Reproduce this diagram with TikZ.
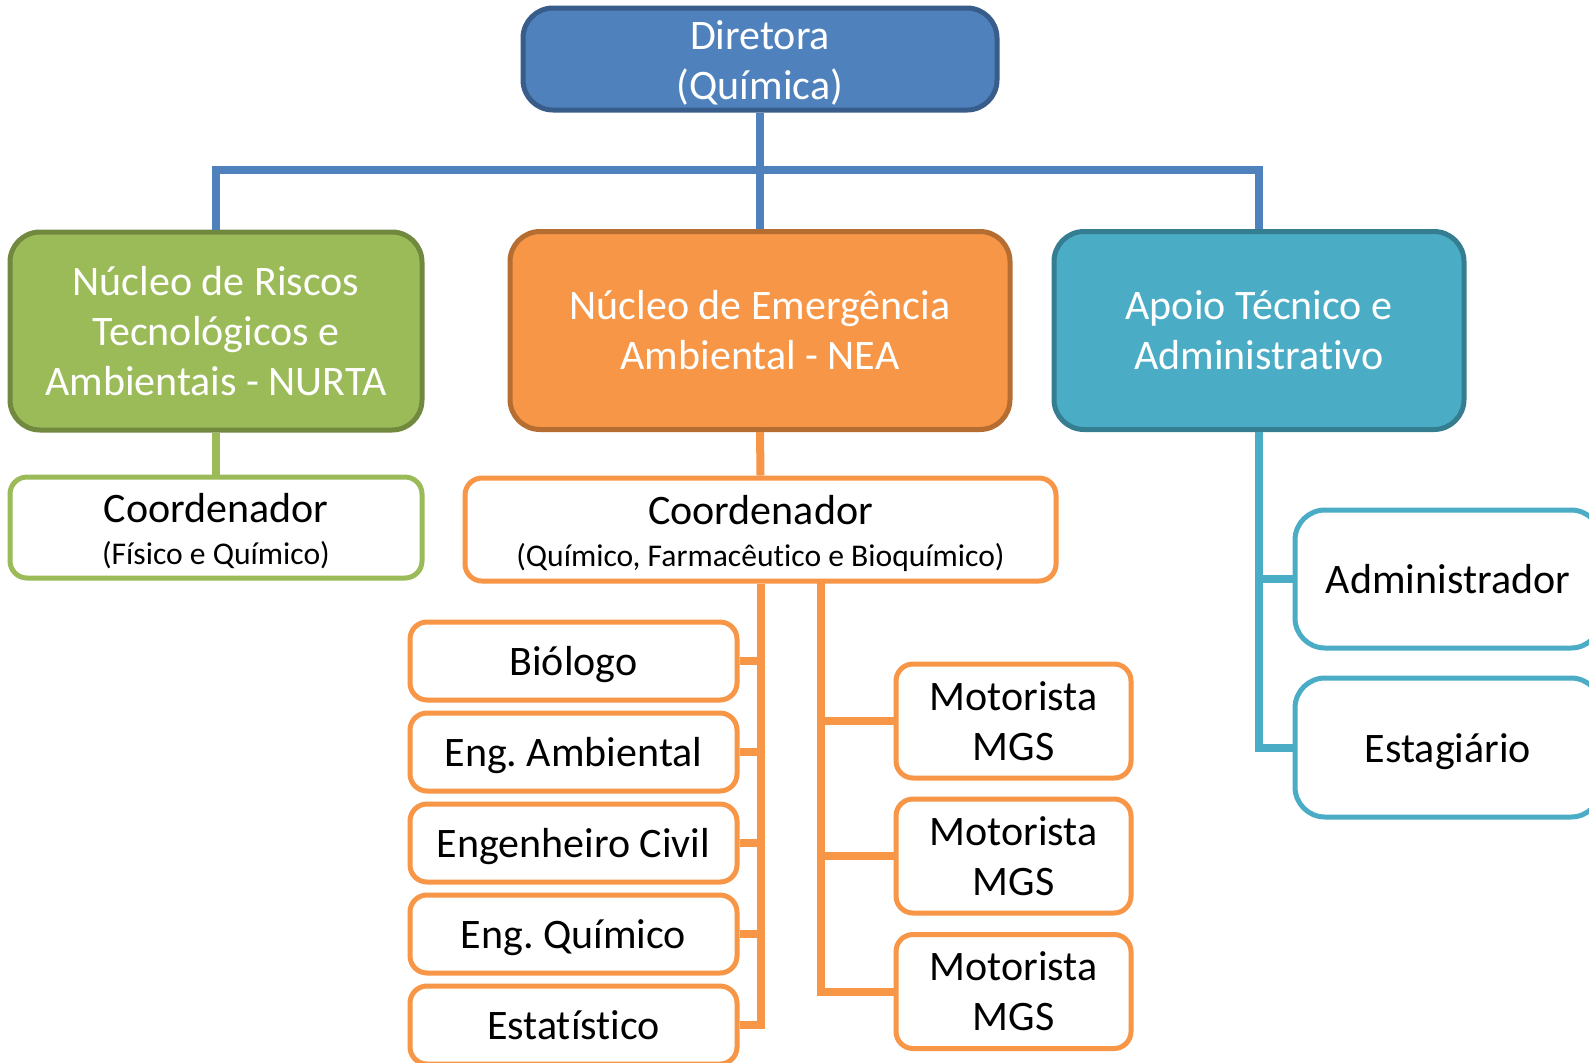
\documentclass[tikz,border=0pt]{standalone}
\usepackage{fontspec}
\setmainfont[Ligatures={NoCommon}]{Carlito}
\frenchspacing
\definecolor{bluef}{HTML}{4F81BD}
\definecolor{blued}{HTML}{385D8A}
\definecolor{greenf}{HTML}{9BBB59}
\definecolor{greend}{HTML}{71893F}
\definecolor{orangef}{HTML}{F79646}
\definecolor{oranged}{HTML}{B66D31}
\definecolor{cyanf}{HTML}{4BACC6}
\definecolor{cyand}{HTML}{357D91}
\newcommand\mainsz{\fontsize{21}{25}\selectfont}
\newcommand\subsz{\fontsize{15.8}{19}\selectfont}
\begin{document}
\frenchspacing
\begin{tikzpicture}[x=0.5pt,y=-0.5pt,
  base/.style={align=center,inner sep=0pt,font=\mainsz,line width=2.5pt},
  head/.style={base,rounded corners=15pt,text=white},
  sub/.style={base,rounded corners=8.5pt,fill=white,text=black},
  one/.style={text height=19pt,text depth=4.5pt},
  bigsub/.style={base,rounded corners=15pt,fill=white,text=black},
  conn/.style={line width=4pt},
]
\useasboundingbox (0,0) rectangle (1589,1062);
\clip (0,0) rectangle (1589,1062);
\fill[white] (0,0) rectangle (1589,1062);

% header nodes
\node[head,fill=bluef,draw=blued,minimum width=237pt,minimum height=51pt] (dir) at (760,59) {\rule{0pt}{18pt}Diretora\\(Química)};
\node[head,fill=greenf,draw=greend,minimum width=206pt,minimum height=99pt] (nurta) at (216,331) {Núcleo de Riscos\\Tecnológicos e\\Ambientais - NURTA};
\node[head,fill=orangef,draw=oranged,minimum width=250pt,minimum height=99pt] (nea) at (760,330.5) {Núcleo de Emergência\\Ambiental - NEA};
\node[head,fill=cyanf,draw=cyand,minimum width=205pt,minimum height=99pt] (apoio) at (1259,330.5) {Apoio Técnico e\\Administrativo};

% coordinators
\node[sub,draw=greenf,minimum width=206pt,minimum height=50.5pt] (coordG) at (216,527.5) {\rule{0pt}{18.5pt}Coordenador\\[-4pt]{\subsz(Físico e Químico)}};
\node[sub,draw=orangef,minimum width=295.5pt,minimum height=51.5pt] (coordO) at (760.5,529.5) {\rule{0pt}{18.5pt}Coordenador\\[-4pt]{\subsz(Químico, Farmacêutico e Bioquímico)}};

% left column
\node[sub,one,draw=orangef,minimum width=163.5pt,minimum height=39pt] (bio) at (573.5,661) {Biólogo};
\node[sub,one,draw=orangef,minimum width=163.5pt,minimum height=39pt] (amb) at (573.5,752) {Eng. Ambiental};
\node[sub,one,draw=orangef,minimum width=163.5pt,minimum height=39pt] (civ) at (573.5,843) {Engenheiro Civil};
\node[sub,one,draw=orangef,minimum width=163.5pt,minimum height=39pt] (qui) at (573.5,934) {Eng. Químico};
\node[sub,one,draw=orangef,minimum width=163.5pt,minimum height=39pt] (est) at (573.5,1025) {Estatístico};

% right column
\node[sub,draw=orangef,minimum width=117.5pt,minimum height=57pt] (mot1) at (1013.5,721) {Motorista\\MGS};
\node[sub,draw=orangef,minimum width=117.5pt,minimum height=57pt] (mot2) at (1013.5,856) {Motorista\\MGS};
\node[sub,draw=orangef,minimum width=117.5pt,minimum height=57pt] (mot3) at (1013.5,991.5) {Motorista\\MGS};

% apoio children
\node[bigsub,one,draw=cyanf,minimum width=153pt,minimum height=69pt] (adm) at (1448,579) {Administrador};
\node[bigsub,one,draw=cyanf,minimum width=153pt,minimum height=69.5pt] (estag) at (1448,747.5) {Estagiário};

% connectors
\coordinate (busY) at (0,170);
\coordinate (rb) at (821,581);
\draw[conn,bluef] (dir.south) -- (nea.north);
\draw[conn,bluef] (nurta.north) -- (nurta.north |- busY) -- (apoio.north |- busY) -- (apoio.north);
\draw[conn,greenf] (nurta.south) -- (coordG.north);
\draw[conn,orangef] (nea.south) -- (coordO.north);
\draw[conn,orangef] (coordO.south) |- (est.east);
\foreach \n in {bio,amb,civ,qui}
  \draw[conn,orangef] (\n.east) -- (\n.east -| coordO.south);
\draw[conn,orangef] (rb) |- (mot3.west);
\foreach \n in {mot1,mot2}
  \draw[conn,orangef] (\n.west) -- (\n.west -| rb);
\draw[conn,cyanf] (apoio.south) |- (estag.west);
\draw[conn,cyanf] (adm.west) -- (adm.west -| apoio.south);
\end{tikzpicture}
\end{document}
